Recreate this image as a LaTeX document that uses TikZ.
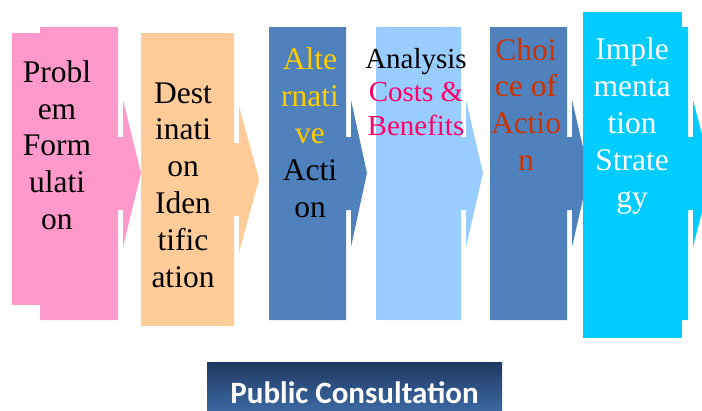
\documentclass[tikz,border=0pt]{standalone}
\usepackage{fontspec}
\setmainfont{Liberation Serif}
\newfontfamily\labelfont{Carlito}

\definecolor{stepPink}{HTML}{FF99CC}
\definecolor{stepPeach}{HTML}{FFCC99}
\definecolor{stepBlue}{HTML}{4F81BD}
\definecolor{stepSky}{HTML}{99CCFF}
\definecolor{stepCyan}{HTML}{00CCFF}
\definecolor{txtYellow}{HTML}{FFCC00}
\definecolor{txtMagenta}{HTML}{FF0066}
\definecolor{txtRust}{HTML}{CC3300}
\definecolor{barTop}{HTML}{1F3862}
\definecolor{barMid}{HTML}{4A7EBB}
\definecolor{barBottom}{HTML}{3D6AA3}

% box with a neck and an arrow head on its right side
% #1 colour, #2 left, #3 right, #4 shift down, #5 tip
\newcommand{\stepbox}[5]{%
  \fill[#1] (#2,27+#4) -- (#3,27+#4) -- (#3,137+#4) -- (#3+5,137+#4)
    -- (#3+5,100+#4) -- (#5,173+#4) -- (#3+5,247+#4) -- (#3+5,210+#4)
    -- (#3,210+#4) -- (#3,320+#4) -- (#2,320+#4) -- cycle;}

% base of a multi-line node is its last line
\tikzset{
  steptext/.style={anchor=base, align=center, inner sep=0pt,
    font=\fontsize{31.5}{36.8}\selectfont}
}

\begin{document}
\begin{tikzpicture}[x=1pt, y=-1pt]
  \useasboundingbox (0,0) rectangle (702,410);

  % the six steps
  \fill[stepPink] (12,33) rectangle (41,305);
  \stepbox{stepPink}{40}{118}{0}{141}
  \stepbox{stepPeach}{141}{234}{6}{259}
  \stepbox{stepBlue}{269}{346}{0}{367}
  \stepbox{stepSky}{376}{461}{0}{483}
  \stepbox{stepBlue}{490}{567}{0}{589}
  \fill[stepCyan] (583,12) rectangle (682,338);
  \stepbox{stepCyan}{583}{688}{0}{712}

  \node[steptext] (problem) at (57,229.5) {Probl\\em\\Form\\ulati\\on};
  \node[steptext] (target) at (183,287) {Dest\\inati\\on\\Iden\\tific\\ation};
  \node[steptext] (alternative) at (310,217)
    {\textcolor{txtYellow}{Alte}\\\textcolor{txtYellow}{rnati}\\\textcolor{txtYellow}{ve}\\Acti\\on};
  \node[steptext, font=\fontsize{29}{33.5}\selectfont] (analysis) at (416,135)
    {Analysis\\\textcolor{txtMagenta}{Costs \&}\\\textcolor{txtMagenta}{Benefits}};
  \node[steptext, text=txtRust] (choice) at (526,170.5) {Choi\\ce of\\Actio\\n};
  \node[steptext, text=white] (strategy) at (632,207) {Imple\\menta\\tion\\Strate\\gy};

  % consultation bar underneath
  \node[top color=barTop, middle color=barMid, bottom color=barBottom,
    minimum width=295pt, minimum height=50pt, inner sep=0pt] (consult) at (354.5,387) {};
  \node[anchor=base, text=white, inner sep=0pt,
    font=\labelfont\bfseries\fontsize{31}{31}\selectfont] (consultText) at (354.5,403) {Public Consultation};
\end{tikzpicture}
\end{document}
